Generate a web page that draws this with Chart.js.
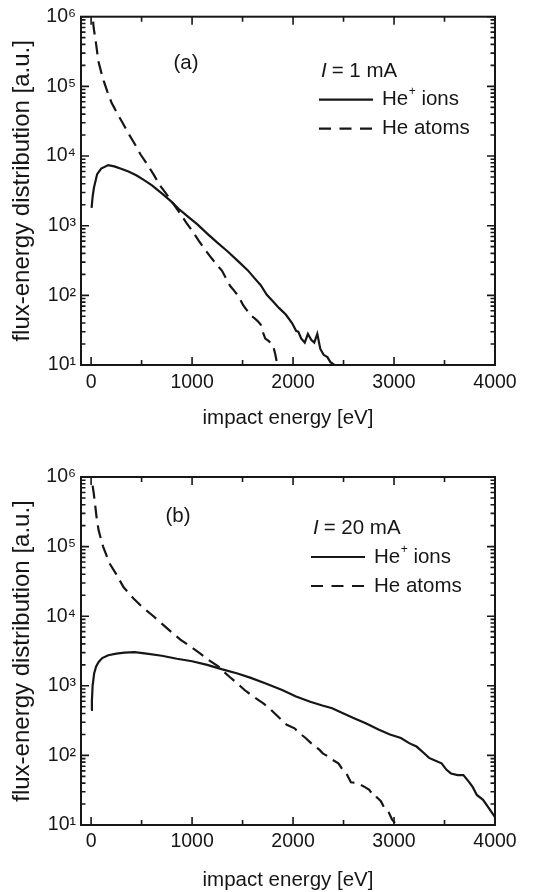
<!DOCTYPE html>
<html><head><meta charset="utf-8">
<script src="https://cdn.jsdelivr.net/npm/chart.js@4/dist/chart.umd.min.js"></script>
<style>
html,body{margin:0;padding:0;background:#fff;}
canvas{display:block;}
</style></head>
<body>
<canvas id="ca" width="549" height="446"></canvas>
<canvas id="cb" width="549" height="446"></canvas>
<script>
// ---------- tick labels ----------
const xTickValues = [0, 1000, 2000, 3000, 4000];
const xTickLabels = ['0', '1000', '2000', '3000', '4000'];
const xMinorValues = [500, 1500, 2500, 3500];
const yTickValues = [1e1, 1e2, 1e3, 1e4, 1e5, 1e6];
const yTickLabels = ['10¹', '10²', '10³', '10⁴', '10⁵', '10⁶'];

// ---------- text ----------
const panelLabels = ['(a)', '(b)'];
const currentSymbol = 'I';
const currentLabels = ['= 1 mA', '= 20 mA'];
const seriesLabels = ['He⁺ ions', 'He atoms'];
const xTitle = 'impact energy [eV]';
const yTitle = 'flux-energy distribution [a.u.]';

// ---------- panel (a): I = 1 mA ----------
const ionsA_energy = [5, 15, 28, 60, 100, 170, 230, 290, 370, 447, 525, 603, 700, 790, 866, 950, 1050, 1150, 1250, 1350, 1450, 1550, 1616, 1680, 1740, 1800, 1860, 1928, 1990, 2030, 2053, 2080, 2116, 2147, 2180, 2210, 2240, 2270, 2303, 2340, 2370, 2410];
const ionsA_flux = [1800, 2600, 3500, 5500, 6600, 7400, 7100, 6600, 6000, 5300, 4500, 3800, 2900, 2250, 1750, 1380, 1050, 770, 570, 430, 315, 230, 178, 140, 102, 82, 66, 53, 40, 31, 30, 24, 21, 28, 23, 21, 28, 17, 14, 13, 11, 10];
const atomsA_energy = [20, 25, 50, 72, 100, 125, 160, 203, 250, 306, 370, 431, 490, 556, 620, 681, 750, 820, 880, 944, 1000, 1069, 1130, 1194, 1250, 1297, 1340, 1378, 1420, 1460, 1506, 1540, 1578, 1610, 1647, 1680, 1700, 1725, 1760, 1803, 1825, 1845];
const atomsA_flux = [8.5e5, 7e5, 4e5, 2.3e5, 1.6e5, 1.2e5, 8.5e4, 5.8e4, 4.3e4, 3.1e4, 2.1e4, 1.5e4, 1.05e4, 7.6e3, 5.4e3, 3.8e3, 2.8e3, 2e3, 1.5e3, 1.1e3, 850, 600, 450, 340, 270, 225, 170, 136, 115, 97, 72, 62, 52, 48, 43, 38, 30, 24, 22, 19, 14, 10];

// ---------- panel (b): I = 20 mA ----------
const ionsB_energy = [0, 8, 15, 30, 50, 75, 110, 170, 250, 330, 430, 550, 700, 850, 1000, 1150, 1300, 1450, 1582, 1730, 1892, 2030, 2170, 2290, 2387, 2500, 2604, 2720, 2851, 2960, 3068, 3150, 3223, 3290, 3347, 3400, 3471, 3520, 3564, 3630, 3687, 3740, 3780, 3820, 3882, 3944, 4000];
const ionsB_flux = [450, 600, 1000, 1500, 1900, 2200, 2500, 2750, 2900, 3000, 3050, 2900, 2700, 2450, 2250, 2000, 1720, 1500, 1300, 1080, 870, 700, 590, 520, 475, 400, 342, 290, 233, 200, 178, 150, 134, 110, 92, 85, 77, 62, 55, 52, 52, 42, 35, 27, 23, 17, 13];
const atomsB_energy = [15, 25, 40, 56, 75, 100, 119, 181, 250, 322, 420, 509, 600, 697, 790, 884, 980, 1072, 1165, 1259, 1303, 1370, 1443, 1520, 1613, 1706, 1783, 1861, 1938, 2015, 2062, 2124, 2201, 2263, 2294, 2356, 2387, 2449, 2480, 2529, 2573, 2635, 2712, 2755, 2805, 2830, 2870, 2900, 2950, 2980, 3025];
const atomsB_flux = [7.5e5, 6e5, 4e5, 2.5e5, 1.7e5, 1.25e5, 1e5, 5.8e4, 4e4, 2.6e4, 1.8e4, 1.35e4, 1.05e4, 7.9e3, 6e3, 4.6e3, 3.7e3, 2.97e3, 2.35e3, 1.9e3, 1.65e3, 1.35e3, 1.1e3, 870, 690, 560, 450, 350, 275, 245, 210, 178, 140, 120, 107, 95, 87, 77, 66, 55, 41, 40, 35, 32, 25, 25, 22, 18, 15, 12, 10];

// ---------- style ----------
const INK = '#161616';
const FONT = "'Liberation Sans', Arial, Helvetica, sans-serif";
const DASH = [13, 7];
const TICK_FS = 19.5, TITLE_FS = 20.5, YTITLE_FS = 24, LEG_FS = 20.5, PANEL_FS = 20.5;
Chart.defaults.color = INK;
Chart.defaults.font.family = FONT;

function pts(ex, vy) { return ex.map((e, i) => ({ x: e, y: vy[i] })); }

function drawLabelWithSup(ctx, text, x, y, size) {
  const idx = text.indexOf('⁺');
  ctx.font = size + 'px ' + FONT;
  if (idx < 0) { ctx.fillText(text, x, y); return; }
  const a = text.slice(0, idx), b = text.slice(idx + 1);
  ctx.fillText(a, x, y);
  let w = ctx.measureText(a).width;
  ctx.font = Math.round(size * 0.6) + 'px ' + FONT;
  ctx.fillText('+', x + w + 0.5, y - size * 0.38);
  w += ctx.measureText('+').width + 0.5;
  ctx.font = size + 'px ' + FONT;
  ctx.fillText(b, x + w, y);
}

function makeDecor(p) {
  return {
    id: 'decor',
    afterDraw(chart) {
      const ctx = chart.ctx;
      const { left, right, top, bottom } = chart.chartArea;
      const xs = chart.scales.x, ys = chart.scales.y;
      ctx.save();
      ctx.strokeStyle = INK; ctx.fillStyle = INK; ctx.lineCap = 'butt';
      ctx.lineWidth = 1.6;
      ctx.beginPath();
      xTickValues.forEach(v => { const q = xs.getPixelForValue(v); ctx.moveTo(q, bottom); ctx.lineTo(q, bottom - 8); ctx.moveTo(q, top); ctx.lineTo(q, top + 8); });
      xMinorValues.forEach(v => { const q = xs.getPixelForValue(v); ctx.moveTo(q, bottom); ctx.lineTo(q, bottom - 5); ctx.moveTo(q, top); ctx.lineTo(q, top + 5); });
      yTickValues.forEach(v => { const q = ys.getPixelForValue(v); ctx.moveTo(left, q); ctx.lineTo(left + 8, q); ctx.moveTo(right, q); ctx.lineTo(right - 8, q); });
      for (let d = 10; d < 1e6; d *= 10) {
        for (let m = 2; m < 10; m++) {
          const q = ys.getPixelForValue(d * m);
          ctx.moveTo(left, q); ctx.lineTo(left + 4.5, q); ctx.moveTo(right, q); ctx.lineTo(right - 4.5, q);
        }
      }
      ctx.stroke();
      ctx.lineWidth = 2;
      ctx.strokeRect(left, top, right - left, bottom - top);

      // panel label
      ctx.textAlign = 'center'; ctx.textBaseline = 'middle';
      ctx.font = PANEL_FS + 'px ' + FONT;
      ctx.fillText(p.label, left + p.labelDx, top + p.labelDy);

      // legend
      ctx.textAlign = 'left';
      const lx = left + p.legDx;
      ctx.font = 'italic ' + LEG_FS + 'px ' + FONT;
      ctx.fillText(currentSymbol, lx + 1, top + p.legDy0);
      const w = ctx.measureText(currentSymbol).width;
      ctx.font = LEG_FS + 'px ' + FONT;
      ctx.fillText(p.current, lx + w + 6, top + p.legDy0);

      const y1 = top + p.legDy1, y2 = top + p.legDy2;
      ctx.lineWidth = 2.2;
      ctx.setLineDash([]);
      ctx.beginPath(); ctx.moveTo(lx - 1, y1); ctx.lineTo(lx + 53, y1); ctx.stroke();
      ctx.setLineDash([12, 8.5]);
      ctx.beginPath(); ctx.moveTo(lx - 1, y2); ctx.lineTo(lx + 53, y2); ctx.stroke();
      ctx.setLineDash([]);
      drawLabelWithSup(ctx, seriesLabels[0], lx + p.textDx, y1, LEG_FS);
      drawLabelWithSup(ctx, seriesLabels[1], lx + p.textDx, y2, LEG_FS);
      ctx.restore();
    }
  };
}

function makeChart(id, ionsE, ionsV, atomsE, atomsV, p) {
  return new Chart(document.getElementById(id), {
    type: 'line',
    data: {
      datasets: [
        { label: seriesLabels[0], data: pts(ionsE, ionsV), borderColor: INK, borderWidth: 2.2, pointRadius: 0, tension: 0, fill: false },
        { label: seriesLabels[1], data: pts(atomsE, atomsV), borderColor: INK, borderWidth: 2.2, borderDash: DASH, pointRadius: 0, tension: 0, fill: false }
      ]
    },
    options: {
      responsive: false,
      animation: false,
      events: [],
      layout: { padding: { left: 0, right: 54, top: p.top, bottom: 0 } },
      plugins: { legend: { display: false }, tooltip: { enabled: false } },
      scales: {
        x: {
          type: 'linear', min: -100, max: 4000,
          grid: { display: false, drawTicks: false },
          border: { display: false },
          afterBuildTicks: s => { s.ticks = xTickValues.map(v => ({ value: v })); },
          afterFit: s => { s.height = p.xHeight; },
          ticks: { autoSkip: false, maxRotation: 0, padding: p.xTickPad, color: INK, font: { size: TICK_FS },
            callback: v => { const i = xTickValues.indexOf(v); return i >= 0 ? xTickLabels[i] : ''; } },
          title: { display: true, text: xTitle, color: INK, font: { size: TITLE_FS, lineHeight: 1 }, padding: { top: 0, bottom: p.xTitlePad } }
        },
        y: {
          type: 'logarithmic', min: 10, max: 1e6,
          grid: { display: false, drawTicks: false },
          border: { display: false },
          afterBuildTicks: s => { s.ticks = yTickValues.map(v => ({ value: v, major: true })); },
          afterFit: s => { s.width = 81; },
          ticks: { autoSkip: false, padding: 5, color: INK, font: { size: TICK_FS },
            callback: v => { const i = yTickValues.indexOf(v); return i >= 0 ? yTickLabels[i] : ''; } },
          title: { display: true, text: yTitle, color: INK, font: { size: YTITLE_FS, lineHeight: 1 }, padding: { top: 10, bottom: 0 } }
        }
      }
    },
    plugins: [makeDecor(p)]
  });
}

makeChart('ca', ionsA_energy, ionsA_flux, atomsA_energy, atomsA_flux, {
  top: 16, xHeight: 81, xTickPad: 6, xTitlePad: 17, label: panelLabels[0], labelDx: 105, labelDy: 47,
  current: currentLabels[0], legDx: 239, legDy0: 55, legDy1: 83, legDy2: 112, textDx: 62
});
makeChart('cb', ionsB_energy, ionsB_flux, atomsB_energy, atomsB_flux, {
  top: 31, xHeight: 67, xTickPad: 5, xTitlePad: 1, label: panelLabels[1], labelDx: 97, labelDy: 39,
  current: currentLabels[1], legDx: 231, legDy0: 51, legDy1: 80, legDy2: 109, textDx: 62
});
</script>
</body></html>
